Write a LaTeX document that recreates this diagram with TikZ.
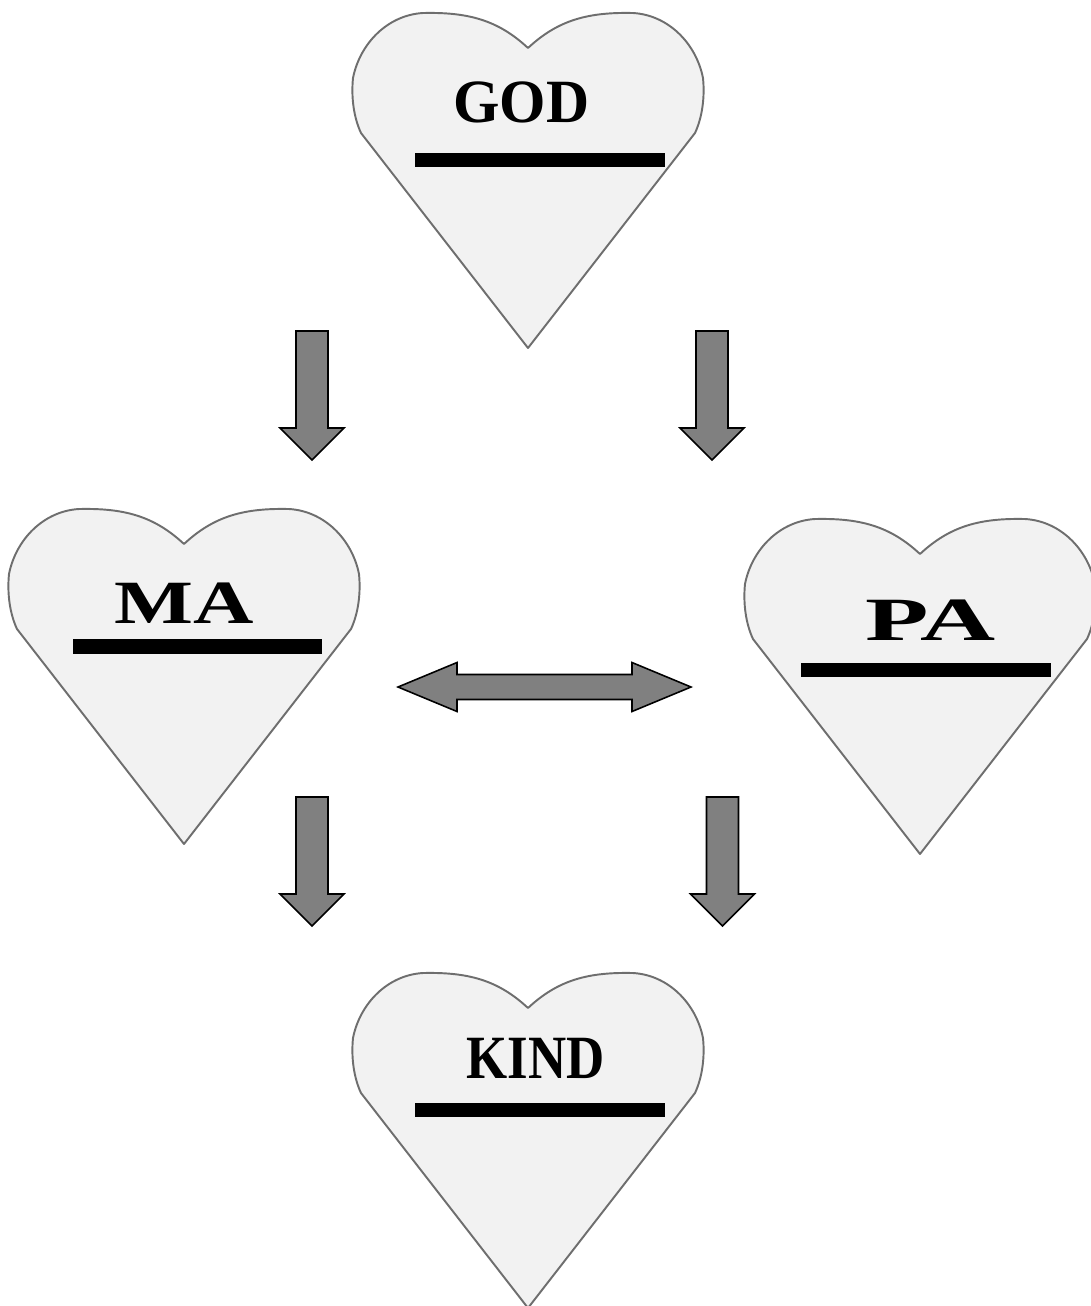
\documentclass[tikz,border=0pt]{standalone}
\usepackage{fontspec}
\setmainfont{Liberation Serif}
\definecolor{heartfill}{HTML}{F2F2F2}
\definecolor{heartdraw}{HTML}{6E6E6E}
\definecolor{arrowfill}{HTML}{808080}
\tikzset{
  heartline/.style={draw=heartdraw, fill=heartfill, line width=1.1pt, line join=round},
  blockarrow/.style={draw=black, fill=arrowfill, line width=0.9pt, line join=miter},
  namebar/.style={fill=black},
  heartname/.style={font=\fontsize{35}{35}\selectfont\bfseries, anchor=base, inner sep=0pt}
}
\begin{document}
\begin{tikzpicture}[x=0.02cm, y=-0.02cm]
        \useasboundingbox (0,0) rectangle (1091,1306);
        % Hearts, placed by the dip between the two lobes
        \foreach \name/\x/\y in {god/528/48, ma/184/544, pa/920/554, kind/528/1008}
        {
            \coordinate (\name) at (\x,\y);
            \draw[heartline, shift={(\name)}] (0,0)
                .. controls (-30,-28) and (-60,-36) .. (-105,-35)
                .. controls (-140,-33) and (-168,-5) .. (-175,30)
                .. controls (-177,50) and (-174,70) .. (-167,85)
                -- (0,300) -- (167,85)
                .. controls (174,70) and (177,50) .. (175,30)
                .. controls (168,-5) and (140,-33) .. (105,-35)
                .. controls (60,-36) and (30,-28) .. (0,0) -- cycle;
        }
        % Names and bars
        \node[heartname, xscale=0.97] (godname) at (521.5,122) {GOD};
        \node[heartname, xscale=1.36] (maname) at (184,623) {MA};
        \node[heartname, xscale=1.69] (paname) at (930.5,640) {PA};
        \node[heartname, xscale=0.86] (kindname) at (535.5,1078) {KIND};
        \fill[namebar] (415,153) rectangle (665,167);
        \fill[namebar] (73,639) rectangle (322,654);
        \fill[namebar] (801,663) rectangle (1051,677);
        \fill[namebar] (415,1103) rectangle (665,1117);
        % Down arrows
        \foreach \n/\x/\y in {gm/312/331, gp/712/331, mk/312/797, pk/722.5/797}
        {
            \coordinate (\n) at (\x,\y);
            \draw[blockarrow, shift={(\n)}] (-16,0) -- (16,0) -- (16,97) -- (32,97)
                -- (0,129) -- (-32,97) -- (-16,97) -- cycle;
        }
        % Double arrow between MA and PA
        \coordinate (mp) at (544.5,687);
        \draw[blockarrow, shift={(mp)}] (-146.5,0) -- (-87.5,-24.5) -- (-87.5,-12.5)
            -- (87.5,-12.5) -- (87.5,-24.5) -- (146.5,0) -- (87.5,24.5)
            -- (87.5,12.5) -- (-87.5,12.5) -- (-87.5,24.5) -- cycle;
    \end{tikzpicture}
\end{document}
